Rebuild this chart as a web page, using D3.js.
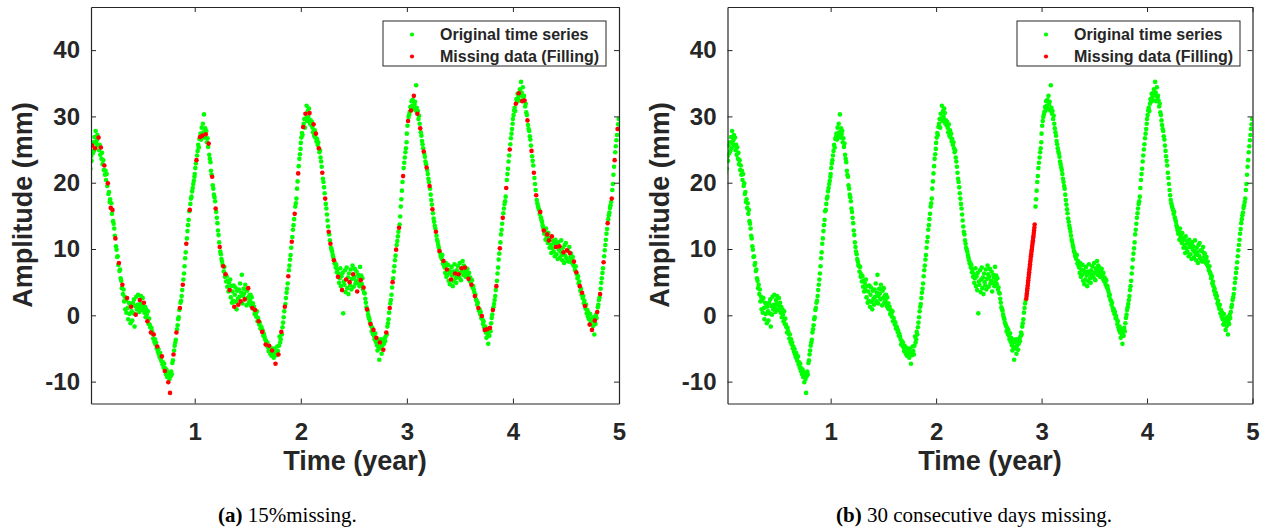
<!DOCTYPE html>
<html><head><meta charset="utf-8">
<script src="https://cdn.jsdelivr.net/npm/d3@7"></script>
<style>body{margin:0;background:#fff} svg{display:block}</style>
</head><body>
<svg id="chart" width="1267" height="532"></svg>
<script>
// ---------- data ----------
const xTicks = [1, 2, 3, 4, 5];
const yTicks = [-10, 0, 10, 20, 30, 40];
const xDomain = [0.022, 5];
const yDomain = [-13.3, 46.5];
const stepDays = 2;          // sample spacing inside each year (days)
const daysPerYear = 365;

// amplitude (mm), one value every 2 days, for each year 0..4
const year0 = [19.8,21.5,23.2,22.1,24.0, 23.3,25.6,24.4,26.1,24.8, 26.9,25.2,27.8,25.9,26.4, 27.2,25.6,26.8,24.9,25.7,
 24.2,25.3,23.6,24.5,22.8, 23.4,21.9,22.6,21.2,21.8, 20.4,21.3,19.5,19.9,18.3, 18.6,17.1,17.5,16.2,16.9,
 15.3,15.9,14.2,13.8,13.1, 12.0,11.6,10.4,9.9,8.8, 8.9,7.6,7.9,6.7,6.9, 5.6,5.2,4.1,4.6,3.2,
 3.9,2.1,2.8,0.9,2.3, 0.4,2.6,1.1,-0.6,1.9, 0.2,1.7,-1.2,1.3,0.6, -0.8,1.9,0.3,2.4,-1.7,
 1.4,0.1,2.8,0.9,1.6, 3.1,1.2,0.5,2.3,1.8, 2.9,0.8,1.5,2.6,1.0, 1.9,0.4,1.3,-0.3,0.9,
 0.1,-0.9,0.6,-1.3,-0.5, -1.4,-1.8,-2.6,-1.9,-2.4, -2.8,-3.5,-2.9,-4.0,-3.6, -4.4,-4.1,-5.0,-4.7,-5.5,
 -5.1,-5.9,-6.3,-5.7,-6.6, -6.9,-6.2,-7.4,-7.1,-7.9, -7.3,-8.4,-8.0,-8.9,-8.2, -9.3,-8.6,-10.1,-8.8,-9.6,
 -11.7,-9.2,-8.5,-8.9,-7.2, -6.8,-5.9,-5.3,-4.6,-4.1, -3.7,-2.6,-2.1,-1.5,-0.6, -0.3,0.8,1.1,1.9,2.2,
 2.9,3.8,4.6,5.4,6.3, 7.4,8.6,9.5,10.8,11.6, 12.7,13.6,14.4,15.7,15.9, 16.8,17.6,17.9,18.7,19.2,
 19.8,20.3,20.9];
const year1 = [21.3,22.2,22.9,23.4,24.1, 24.8,25.7,25.3,26.6,26.9, 27.4,26.5,28.3,27.1,28.9, 27.6,30.3,26.8,28.2,27.3,
 27.8,26.1,26.7,25.4,25.9, 24.2,23.6,23.1,21.8,21.2, 20.9,19.6,19.1,18.2,17.8, 17.2,16.1,15.6,14.7,13.9,
 12.8,12.1,11.0,10.3,9.6, 9.2,8.5,8.1,7.6,7.4, 6.6,7.3,5.8,6.2,5.1, 5.9,4.3,5.2,3.6,4.9,
 3.8,5.4,2.7,4.4,1.9, 3.6,2.2,4.5,1.3,3.1, 4.2,2.0,0.9,3.7,2.5, 1.6,3.9,2.8,4.8,2.1,
 3.4,6.1,1.8,2.9,4.0, 3.3,2.4,4.6,3.9,1.5, 3.7,2.6,4.1,1.9,3.0, 2.2,3.1,1.4,2.7,1.1,
 1.8,0.9,1.3,0.2,0.8, 0.3,-0.2,0.6,-0.9,-0.4, -0.9,-1.4,-1.1,-2.0,-1.7, -1.9,-2.5,-2.3,-3.1,-2.8,
 -3.2,-3.6,-4.4,-3.9,-4.5, -4.1,-4.8,-5.4,-4.6,-5.2, -5.8,-4.9,-6.1,-5.3,-5.7, -5.2,-6.4,-5.0,-5.9,-7.3,
 -5.6,-6.0,-4.7,-5.4,-5.9, -4.6,-3.2,-4.1,-3.6,-2.5, -2.9,-1.8,-1.1,-0.3,0.6, 1.3,1.7,2.6,3.4,4.0,
 4.8,5.9,6.8,7.5,8.4, 9.1,10.2,11.1,11.8,12.9, 13.6,14.5,15.3,16.4,16.9, 17.6,19.1,20.2,21.4,22.5,
 23.6,24.3,25.1];
const year2 = [26.0,26.8,27.5,27.2,28.4, 28.9,29.6,28.3,30.4,29.7, 31.6,29.3,30.8,29.9,31.2, 30.5,28.9,29.4,28.7,29.2,
 28.3,27.6,28.8,27.1,27.9, 26.8,27.4,26.2,26.6,25.7, 26.1,25.2,24.6,24.9,23.8, 23.2,22.4,21.5,20.6,20.1,
 19.3,18.4,17.6,16.8,16.1, 15.2,14.3,13.4,12.6,12.2, 11.3,10.8,10.2,9.9,9.6, 9.1,8.7,8.3,7.8,7.9,
 7.2,7.6,6.5,6.9,5.8, 6.3,4.9,5.6,7.1,4.4, 5.9,3.8,6.4,0.3,5.1, 4.6,6.8,3.5,5.4,7.2,
 4.1,5.7,3.2,6.3,5.0, 4.5,6.9,3.9,5.5,7.5, 6.2,4.3,5.8,7.0,4.8, 5.2,6.6,3.6,4.9,6.1,
 5.7,4.4,7.3,5.3,6.0, 4.7,5.6,3.9,4.2,3.4, 3.3,2.5,1.9,1.2,0.9, 0.7,0.1,-0.3,-0.6,-1.1,
 -1.3,-1.6,-2.4,-1.9,-2.8, -2.2,-3.1,-3.6,-2.7,-4.0, -3.4,-4.5,-5.3,-3.7,-4.8, -6.7,-4.1,-5.0,-3.6,-5.8,
 -4.6,-3.9,-5.2,-4.3,-3.5, -3.9,-3.2,-2.6,-2.9,-1.7, -1.2,-0.6,0.4,1.1,1.8, 2.3,3.1,4.2,5.0,5.6,
 6.6,7.4,8.3,9.0,9.9, 10.6,11.2,11.9,12.6,13.2, 13.7,14.9,16.4,17.5,18.8, 20.1,21.0,22.2,23.0,23.8,
 24.6,25.2,26.1];
const year3 = [27.4,28.6,29.3,29.9,30.3, 30.7,31.4,30.9,32.3,31.6, 32.5,31.2,33.1,31.8,32.2, 30.9,34.7,31.3,30.4,30.8,
 29.6,30.1,28.9,28.2,27.6, 27.1,26.3,25.8,25.2,24.7, 24.4,23.9,23.2,22.8,22.3, 21.9,21.3,20.6,20.1,19.5,
 19.1,18.2,17.4,16.7,16.0, 15.4,14.6,14.1,13.5,13.1, 12.6,12.0,11.4,11.1,10.6, 10.2,9.7,9.5,9.0,8.8,
 8.5,9.1,7.8,8.2,7.5, 7.2,6.4,7.9,5.8,6.9, 6.1,7.6,5.2,6.8,4.7, 6.5,5.4,7.3,6.0,4.4,
 6.6,5.1,7.7,6.3,5.6, 4.9,6.8,5.9,7.4,6.2, 5.7,7.9,6.4,5.3,7.1, 6.9,8.2,6.1,7.5,6.6,
 7.2,5.8,6.7,6.3,7.0, 6.1,5.5,6.4,5.2,5.7, 5.0,4.6,5.3,4.2,4.4, 3.9,3.5,2.9,3.1,2.4,
 2.2,1.6,1.9,1.1,0.7, 0.9,0.2,0.5,-0.4,-0.1, -0.6,-1.3,-0.9,-1.8,-2.2, -1.7,-2.6,-3.4,-2.1,-2.9,
 -4.3,-2.5,-3.1,-1.9,-2.4, -1.2,-0.4,0.1,0.8,1.2, 1.7,2.3,2.9,3.8,4.4, 5.2,6.3,7.2,8.4,9.3,
 10.1,11.0,12.2,12.9,13.8, 14.7,15.4,16.1,16.8,17.2, 17.9,19.2,20.4,21.3,22.1, 23.2,24.1,25.0,25.8,26.7,
 27.4,28.1,28.9];
const year4 = [29.6,30.2,30.9,31.3,30.8, 31.9,32.6,32.2,33.4,32.8, 33.5,32.4,34.1,33.2,35.2, 33.6,32.3,34.4,32.9,33.1,
 32.4,31.5,31.9,30.6,30.2, 29.4,28.7,28.1,27.8,27.0, 26.5,25.6,24.8,24.0,23.3, 22.6,21.5,20.7,19.8,18.9,
 18.1,17.4,16.9,16.5,16.2, 15.9,15.3,15.6,14.8,14.4, 14.1,13.6,13.2,12.8,12.3, 12.6,11.4,13.1,11.8,12.2,
 10.9,12.4,11.3,10.2,11.7, 10.6,9.4,11.9,10.1,11.2, 9.6,10.8,8.9,11.4,10.3, 9.2,10.7,8.5,11.0,9.9,
 10.4,8.7,9.6,11.3,9.1, 8.3,10.2,9.5,7.9,10.6, 9.0,10.9,8.6,9.8,8.2, 9.7,8.1,10.3,9.4,8.8,
 9.3,8.5,7.9,8.8,7.6, 8.1,7.3,6.8,7.4,6.5, 6.2,5.6,5.9,4.8,5.1, 4.4,3.7,4.0,3.1,3.4,
 2.6,2.9,1.8,2.2,1.4, 1.0,1.6,0.3,0.8,-0.2, 0.4,-0.6,-1.4,0.2,-1.1, -0.5,-2.2,-0.9,-1.6,-0.3,
 -2.9,-0.8,-1.3,0.1,-0.4, 0.5,1.2,1.6,2.3,2.7, 3.2,4.0,4.9,5.6,6.4, 7.1,8.0,8.9,9.8,10.6,
 11.4,12.3,13.0,13.9,14.5, 15.1,15.5,16.2,16.6,17.1, 17.6,18.9,19.8,21.2,22.4, 23.4,24.6,25.5,26.4,27.2,
 28.1,28.8,29.6];
const years = [year0, year1, year2, year3, year4];

// panel (a): sample positions (index within each year) that are missing and filled
const missingA = [
 [6,11,17,21,27,33,38,41,46,52,58,66,73,81,88,95,101,107,112,118,126,131,137,140,146,151,157,162,168,174],
 [3,9,13,19,24,30,36,43,49,53,60,68,75,79,86,92,99,104,110,116,122,128,133,139,144,149,155,161,167,172,178],
 [4,8,15,22,26,31,37,42,48,51,57,64,71,78,84,90,97,103,108,114,120,125,130,136,142,147,153,158,164,169,176],
 [2,7,12,18,23,29,34,39,44,50,56,63,69,76,83,89,94,100,106,111,117,123,129,134,138,143,148,154,160,165,171,177],
 [5,10,16,20,25,32,36,40,47,53,59,62,67,74,80,87,93,98,105,109,115,119,124,132,136,141,145,150,156,163,170,175,180]
];

// panel (b): 30 consecutive missing days (year 2, samples 156..171) and their filling
const gapBYear = 2;
const gapBRange = [156, 171];
const fillBStart = 2.855;      // year of first filled day
const fillB = [2.5,2.9,3.3,3.7,4.1,4.5,4.9,5.3,5.7,6.1,6.5,6.9,7.3,7.7,8.1,
               8.5,8.9,9.2,9.6,9.9,10.3,10.6,11.0,11.3,11.7,12.0,12.4,12.8,13.2,13.7];

const legendLabels = ["Original time series", "Missing data (Filling)"];
const captions = [["(a)", " 15%missing."], ["(b)", " 30 consecutive days missing."]];

// ---------- build point lists ----------
const allPts = [];
years.forEach((arr, k) => arr.forEach((v, j) => allPts.push({k, j, t: k + j * stepDays / daysPerYear, v})));
const missSets = missingA.map(a => new Set(a));
const greenA = allPts.filter(p => !missSets[p.k].has(p.j));
const redA = allPts.filter(p => missSets[p.k].has(p.j));
const greenB = allPts.filter(p => !(p.k === gapBYear && p.j >= gapBRange[0] && p.j <= gapBRange[1]));
const redB = fillB.map((v, d) => ({t: fillBStart + d / daysPerYear, v}));

// ---------- drawing ----------
const svg = d3.select("#chart");
const INK = "#262626";
const SANS = "'Liberation Sans', Arial, Helvetica, sans-serif";
const SERIF = "'Liberation Serif', 'Times New Roman', serif";
const GREEN = "#00ff00", RED = "#ff0000";
const R = 2.3;

const panels = [
  {x0: 91, x1: 619, green: greenA, red: redA, legendX: 383, cap: captions[0], capX: 218},
  {x0: 727.5, x1: 1252.5, green: greenB, red: redB, legendX: 1017, cap: captions[1], capX: 836}
];
const yTop = 7, yBot = 403.5;

panels.forEach((P, i) => {
  const x = d3.scaleLinear().domain(xDomain).range([P.x0, P.x1]);
  const y = d3.scaleLinear().domain(yDomain).range([yBot, yTop]);
  const g = svg.append("g");

  const clipId = "clip" + i;
  svg.append("clipPath").attr("id", clipId).append("rect")
    .attr("x", P.x0).attr("y", yTop).attr("width", P.x1 - P.x0).attr("height", yBot - yTop);

  const pts = g.append("g").attr("clip-path", `url(#${clipId})`);
  pts.selectAll("circle.g").data(P.green).join("circle").attr("class", "g")
    .attr("cx", d => x(d.t)).attr("cy", d => y(d.v)).attr("r", R).attr("fill", GREEN);
  pts.selectAll("circle.r").data(P.red).join("circle").attr("class", "r")
    .attr("cx", d => x(d.t)).attr("cy", d => y(d.v)).attr("r", R).attr("fill", RED);

  // axes (inward ticks, full box)
  const styleAxis = sel => {
    sel.selectAll("path.domain").attr("stroke", INK).attr("stroke-width", 1.2);
    sel.selectAll(".tick line").attr("stroke", INK).attr("stroke-width", 1);
    sel.selectAll("text").attr("fill", INK).attr("font-family", SANS)
      .attr("font-weight", "bold").attr("font-size", 24);
  };
  const fmt = d => String(d);
  g.append("g").attr("transform", `translate(0,${yBot})`)
    .call(d3.axisBottom(x).tickValues(xTicks).tickFormat(fmt).tickSizeInner(-5).tickSizeOuter(0).tickPadding(19))
    .call(styleAxis);
  g.append("g").attr("transform", `translate(0,${yTop})`)
    .call(d3.axisTop(x).tickValues(xTicks).tickFormat("").tickSizeInner(-5).tickSizeOuter(0))
    .call(styleAxis);
  g.append("g").attr("transform", `translate(${P.x0},0)`)
    .call(d3.axisLeft(y).tickValues(yTicks).tickFormat(fmt).tickSizeInner(-5).tickSizeOuter(0).tickPadding(11))
    .call(styleAxis);
  g.append("g").attr("transform", `translate(${P.x1},0)`)
    .call(d3.axisRight(y).tickValues(yTicks).tickFormat("").tickSizeInner(-5).tickSizeOuter(0))
    .call(styleAxis);

  // axis titles
  g.append("text").attr("x", (P.x0 + P.x1) / 2).attr("y", 470).attr("text-anchor", "middle")
    .attr("font-family", SANS).attr("font-weight", "bold").attr("font-size", 27).attr("fill", INK)
    .text("Time (year)");
  g.append("text").attr("transform", `translate(${P.x0 - 59},205) rotate(-90)`).attr("text-anchor", "middle")
    .attr("font-family", SANS).attr("font-weight", "bold").attr("font-size", 27).attr("fill", INK)
    .text("Amplitude (mm)");

  // legend
  const lg = g.append("g").attr("transform", `translate(${P.legendX},21)`);
  lg.append("rect").attr("width", 223).attr("height", 45).attr("fill", "#fff")
    .attr("stroke", INK).attr("stroke-width", 1);
  [GREEN, RED].forEach((c, r) => {
    lg.append("circle").attr("cx", 29).attr("cy", 13.5 + r * 22).attr("r", 2.1).attr("fill", c);
    lg.append("text").attr("x", 57).attr("y", 19 + r * 22).attr("font-family", SANS)
      .attr("font-weight", "bold").attr("font-size", 16).attr("fill", INK).text(legendLabels[r]);
  });

  // caption
  const ct = svg.append("text").attr("x", P.capX).attr("y", 522)
    .attr("font-family", SERIF).attr("font-size", 21).attr("fill", "#000");
  ct.append("tspan").attr("font-weight", "bold").text(P.cap[0]);
  ct.append("tspan").text(P.cap[1]);
});
</script>
</body></html>
